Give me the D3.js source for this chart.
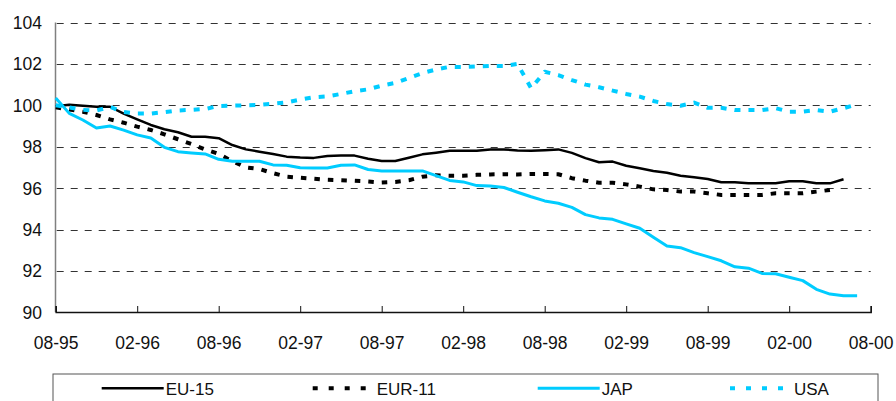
<!DOCTYPE html>
<html><head><meta charset="utf-8">
<script src="https://cdn.jsdelivr.net/npm/d3@7"></script>
<style>
html,body{margin:0;padding:0;background:#fff;}
svg{display:block;font-family:"Liberation Sans",Arial,sans-serif;}
</style></head>
<body><svg id="c" width="896" height="401"></svg>
<script>
const tickLabels = ["08-95","02-96","08-96","02-97","08-97","02-98","08-98","02-99","08-99","02-00","08-00"];
const yTicks = [90,92,94,96,98,100,102,104];
const seriesNames = ["EU-15","EUR-11","JAP","USA"];
const eu15 = [99.95,100.03,99.98,99.93,99.93,99.6,99.32,99.05,98.84,98.7,98.48,98.48,98.41,98.08,97.87,97.76,97.65,97.52,97.48,97.46,97.55,97.57,97.57,97.42,97.31,97.31,97.47,97.63,97.71,97.8,97.81,97.81,97.86,97.87,97.82,97.8,97.83,97.87,97.7,97.45,97.25,97.28,97.08,96.96,96.83,96.74,96.6,96.52,96.44,96.28,96.28,96.23,96.23,96.23,96.33,96.33,96.23,96.23,96.43];
const eur11 = [99.9,99.8,99.69,99.53,99.32,99.16,98.97,98.81,98.6,98.36,98.13,97.87,97.65,97.3,97.0,96.92,96.72,96.55,96.5,96.45,96.4,96.38,96.35,96.32,96.27,96.3,96.38,96.55,96.62,96.6,96.6,96.64,96.66,96.67,96.66,96.68,96.68,96.67,96.48,96.36,96.26,96.26,96.18,96.07,95.94,95.91,95.83,95.83,95.75,95.67,95.67,95.67,95.67,95.75,95.75,95.75,95.83,95.91];
const jap = [100.35,99.61,99.29,98.9,99.0,98.8,98.57,98.42,97.97,97.76,97.7,97.65,97.39,97.3,97.3,97.3,97.12,97.1,96.98,96.97,96.97,97.1,97.12,96.9,96.83,96.83,96.83,96.83,96.6,96.37,96.3,96.12,96.1,96.03,95.8,95.58,95.38,95.27,95.07,94.72,94.56,94.49,94.27,94.06,93.62,93.2,93.12,92.88,92.69,92.49,92.2,92.13,91.88,91.86,91.69,91.53,91.11,90.88,90.8,90.8];
const usa = [100.0,99.9,99.78,99.75,99.92,99.68,99.6,99.6,99.67,99.75,99.78,99.82,99.97,99.98,100.0,100.02,100.08,100.14,100.28,100.39,100.43,100.55,100.68,100.77,100.95,101.08,101.32,101.56,101.73,101.86,101.85,101.88,101.9,101.9,102.0,100.82,101.62,101.46,101.22,101.0,100.87,100.71,100.55,100.42,100.21,100.06,99.98,100.13,99.88,99.88,99.77,99.77,99.77,99.86,99.69,99.69,99.77,99.69,99.86,100.05];

const CYAN = "#00CCFF";
const svg = d3.select("#c");
const x = d3.scaleLinear().domain([0,60]).range([55.7,870.7]);
const y = d3.scaleLinear().domain([90,104]).range([312.3,22.5]);

// gridlines
svg.append("g").selectAll("line").data(yTicks.filter(v=>v>90)).join("line")
  .attr("x1",x(0)+1).attr("x2",x(60)).attr("y1",d=>Math.round(y(d))+0.5).attr("y2",d=>Math.round(y(d))+0.5)
  .attr("stroke","#333").attr("stroke-width",1).attr("stroke-dasharray","7,7");

// y axis line
svg.append("line").attr("x1",55.5).attr("x2",55.5).attr("y1",y(104)).attr("y2",y(90))
  .attr("stroke","#808080").attr("stroke-width",1.5);

// y labels
svg.append("g").selectAll("text").data(yTicks).join("text")
  .attr("x",42).attr("y",d=>y(d)+6.5).attr("text-anchor","end")
  .attr("font-size",17.5).attr("fill","#111").text(d=>d);

// x axis
const xa = svg.append("g").attr("transform",`translate(0,${Math.round(y(90))})`)
  .call(d3.axisBottom(x).tickValues(d3.range(0,61,6)).tickSize(-6).tickPadding(30).tickFormat((d,i)=>tickLabels[i]));
xa.select(".domain").attr("stroke","#111").attr("stroke-width",1.5);
xa.selectAll(".tick line").attr("stroke","#111").attr("stroke-width",1);
xa.selectAll(".tick text").attr("font-size",17.5).attr("fill","#111")
  .attr("font-family","'Liberation Sans',Arial,sans-serif").attr("dy",0).attr("y",37);

const line = d3.line().x((d,i)=>x(i)).y(d=>y(d));
const series = [
  {name:seriesNames[0], data:eu15, color:"#000", w:2.5, dash:null},
  {name:seriesNames[1], data:eur11, color:"#000", w:4, dash:"5.5,8"},
  {name:seriesNames[2], data:jap, color:CYAN, w:3, dash:null},
  {name:seriesNames[3], data:usa, color:CYAN, w:4, dash:"6,8"}
];
svg.append("g").selectAll("path").data(series).join("path")
  .attr("d",d=>line(d.data)).attr("fill","none")
  .attr("stroke",d=>d.color).attr("stroke-width",d=>d.w)
  .attr("stroke-dasharray",d=>d.dash).attr("stroke-linejoin","round");

// legend
svg.append("rect").attr("x",53).attr("y",374).attr("width",825).attr("height",40)
  .attr("fill","none").attr("stroke","#555").attr("stroke-width",1);
const lx = [101.7,312.7,537.7,730];
const lg = svg.append("g").selectAll("g").data(series).join("g");
lg.append("line").attr("x1",(d,i)=>lx[i]).attr("x2",(d,i)=>lx[i]+62)
  .attr("y1",388.3).attr("y2",388.3).attr("stroke",d=>d.color)
  .attr("stroke-width",d=>d.w).attr("stroke-dasharray",d=>d.dash?"5,11":null);
lg.append("text").attr("x",(d,i)=>lx[i]+64).attr("y",395).attr("font-size",17)
  .attr("fill","#111").text(d=>d.name);
</script></body></html>
